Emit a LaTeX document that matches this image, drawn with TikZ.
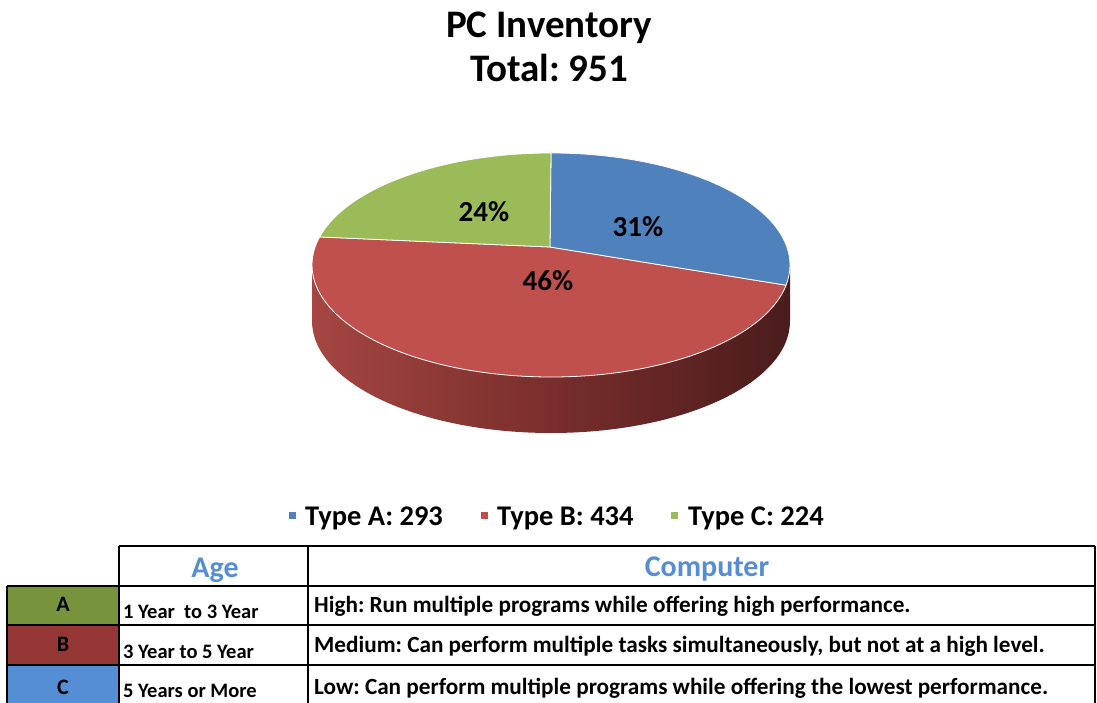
\documentclass[tikz,border=0pt]{standalone}
\usepackage{fontspec}
\setmainfont{Carlito}
\frenchspacing
\definecolor{sliceblue}{HTML}{4F81BD}
\definecolor{slicered}{HTML}{C0504D}
\definecolor{slicegreen}{HTML}{9BBB59}
\definecolor{sideL}{RGB}{165,70,66}
\definecolor{sideR}{RGB}{74,28,28}
\definecolor{cellA}{HTML}{77933C}
\definecolor{cellB}{HTML}{953735}
\definecolor{cellC}{HTML}{558ED5}
\definecolor{headblue}{HTML}{558ED5}
\tikzset{
  fz/.style={font=\fontsize{#1}{#1}\selectfont\bfseries},
  slice/.style={draw=white, line width=0.8pt, line join=round},
  pct/.style={fz=29, text=black},
  legtext/.style={fz=28.5, anchor=base west, inner sep=0pt},
  legmark/.style={minimum size=7pt, inner sep=0pt},
  grid/.style={line width=2.8pt, black},
  agetext/.style={fz=20.5, anchor=base west, inner sep=0pt},
  comptext/.style={fz=23.2, anchor=base west, inner sep=0pt},
  lettertext/.style={fz=22, anchor=base, inner sep=0pt},
  headtext/.style={fz=30, anchor=base, inner sep=0pt, text=headblue},
}
\begin{document}
\begin{tikzpicture}[x=1pt,y=1pt]
\useasboundingbox (0,0) rectangle (1097,703);
% title
\node[fz=39, anchor=base] (t1) at (549,665) {PC Inventory};
\node[fz=39, anchor=base] (t2) at (549,621) {Total: 951};
% pie side
\coordinate (P) at (550,456);
\path[shade, left color=sideL, right color=sideR, middle color={rgb,255:red,120;green,46;blue,44}]
  (312,438) arc[start angle=180, end angle=360, x radius=239, y radius=112]
  -- ++(0,-56) arc[start angle=360, end angle=180, x radius=239, y radius=112] -- cycle;
% pie top
\path[slice, fill=slicered] (P) -- ({551+239*cos(-10.4)},{438+112*sin(-10.4)})
  arc[start angle=-10.4, end angle=-194.5, x radius=239, y radius=112] -- cycle;
\path[slice, fill=sliceblue] (P) -- (551,550)
  arc[start angle=90, end angle=-10.4, x radius=239, y radius=112] -- cycle;
\path[slice, fill=slicegreen] (P) -- ({551+239*cos(165.5)},{438+112*sin(165.5)})
  arc[start angle=165.5, end angle=90, x radius=239, y radius=112] -- cycle;
\node[pct] (p24) at (484,491) {24\%};
\node[pct] (p31) at (638,476) {31\%};
\node[pct] (p46) at (548,422) {46\%};
% legend
\node[legmark, fill=sliceblue] (ma) at (292,187) {};
\node[legtext] (la) at (305,177) {Type A: 293};
\node[legmark, fill=slicered] (mb) at (484,187) {};
\node[legtext] (lb) at (497,177) {Type B: 434};
\node[legmark, fill=slicegreen] (mc) at (674,187) {};
\node[legtext] (lc) at (688,177) {Type C: 224};
% table cells
\fill[cellA] (7,78) rectangle (119,117);
\fill[cellB] (7,38) rectangle (119,78);
\fill[cellC] (7,0) rectangle (119,38);
\draw[grid] (119,157) -- (1095,157);
\draw[grid] (7,117) -- (1095,117);
\draw[grid] (7,78) -- (1095,78);
\draw[grid] (7,38) -- (1095,38);
\draw[grid] (7,117) -- (7,0);
\draw[grid] (119,157) -- (119,0);
\draw[grid] (308,157) -- (308,0);
\draw[grid] (1095,157) -- (1095,0);
% table text
\node[headtext] (hage) at (215,125) {Age};
\node[headtext] (hcomp) at (707,126) {Computer};
\node[lettertext] (ra) at (63,91) {A};
\node[lettertext] (rb) at (63,51) {B};
\node[lettertext] (rc) at (63,8) {C};
\node[agetext] (aa) at (123,84) {1 Year\ \ to 3 Year};
\node[agetext] (ab) at (123,44) {3 Year to 5 Year};
\node[agetext] (ac) at (123,5) {5 Years or More};
\node[comptext] (ca) at (314,90) {High: Run multiple programs while offering high performance.};
\node[comptext] (cb) at (314,50) {Medium: Can perform multiple tasks simultaneously, but not at a high level.};
\node[comptext] (cc) at (314,8) {Low: Can perform multiple programs while offering the lowest performance.};
\end{tikzpicture}
\end{document}
